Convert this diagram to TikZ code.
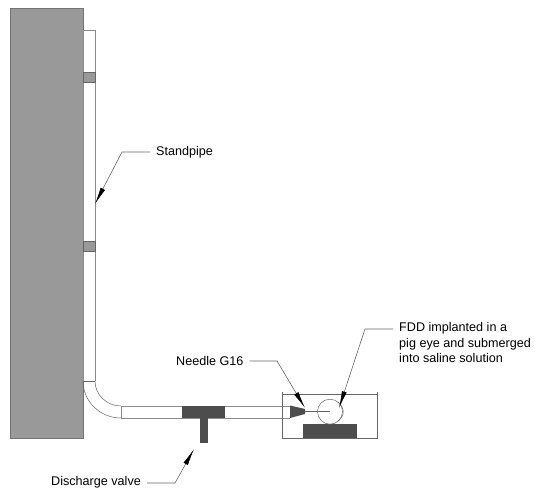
\documentclass[tikz,border=0pt]{standalone}
\usepackage{fontspec}
\setmainfont{Liberation Sans}
\usepackage{tikz}
\usetikzlibrary{arrows.meta}
\definecolor{wallgray}{HTML}{999999}
\definecolor{darkpart}{HTML}{4D4D4D}
\tikzset{pipeline/.style={draw=black!45,line width=.8pt},
partline/.style={draw=black!60,line width=.5pt},
leader/.style={draw=black!60,line width=.6pt,-{Latex[black,length=17pt,width=5pt]}},
lbl/.style={font=\fontsize{12.6}{15.5}\selectfont,inner sep=0pt,anchor=west,align=left}}

\begin{document}
\begin{tikzpicture}[x=1pt,y=-1pt]
\useasboundingbox(0,0)rectangle(535,492);
\draw[fill=wallgray,draw=black!55,line width=.6pt](10,8)rectangle(83,438);
\draw[pipeline,fill=white](83,381)--(83,30)--(95,30)--(95,381);
\draw[partline](83,381)--(95,381);
\draw[partline](83,381)arc(180:90:38 and 37);\draw[partline](95,381)arc(180:90:26 and 25);
\draw[pipeline,fill=white](121,418)--(121,406)--(290,406);\draw[pipeline](121,418)--(290,418);
\draw[partline,fill=wallgray](83,72)rectangle(95,82);\draw[partline,fill=wallgray](83,241)rectangle(95,251);
\fill[darkpart](182,406)rectangle(225,418);\fill[darkpart](199.5,418)rectangle(207.5,443);
\draw[partline](282,392)--(282,438)--(377,438)--(377,392)(282,394)--(377,394);
\fill[darkpart](303,424)rectangle(357,438);
\fill[darkpart](290,405.5)--(305,409)--(305,414)--(290,418)--cycle;
\draw[partline](305,411.7)--(330,411.7);
\draw[partline](330,411.7)circle(12.5);
\draw[partline](338,402)..controls(345,408)and(345,416)..(338,421);
\node[lbl](standlbl)at(156,152){Standpipe};
\node[lbl](needlelbl)at(176,361){Needle G16};
\node[lbl](valvelbl)at(51,482){Discharge valve};
\node[lbl,anchor=north west](fddlbl)at(399,322.5){FDD implanted in a\\pig eye and submerged\\into saline solution};
\coordinate(standtip)at(95,204);\coordinate(needletip)at(305,408);\coordinate(valvetip)at(194,449);\coordinate(fddtip)at(339,408);
\draw[leader](standlbl.west)++(-6,0)--(122,152)--(standtip);
\draw[leader](needlelbl.east)++(6,0)--(277,361)--(needletip);
\draw[leader](valvelbl.east)++(6,1)--(175,483)--(valvetip);
\draw[leader](fddlbl.north west)++(-6,6.5)--(365,329)--(fddtip);
\end{tikzpicture}
\end{document}
